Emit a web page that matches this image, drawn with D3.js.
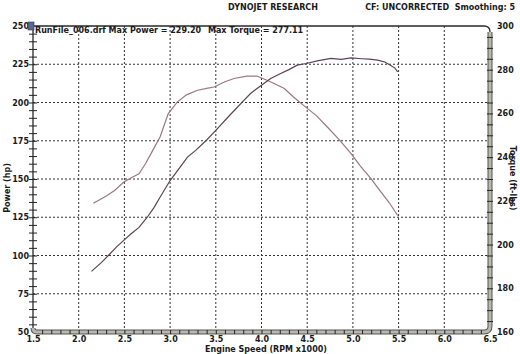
<!DOCTYPE html>
<html>
<head>
<meta charset="utf-8">
<script src="https://cdnjs.cloudflare.com/ajax/libs/d3/7.8.5/d3.min.js"></script>
<style>
body { margin: 0; background: #fff; }
svg text { font-family: "DejaVu Sans", Verdana, sans-serif; font-weight: bold; fill: #1a1a1a; }
</style>
</head>
<body>
<svg id="chart" width="520" height="354"></svg>
<script>
var rpmTicks = [1.5, 2.0, 2.5, 3.0, 3.5, 4.0, 4.5, 5.0, 5.5, 6.0, 6.5];
var powerTicks = [50, 75, 100, 125, 150, 175, 200, 225, 250];
var torqueTicks = [160, 180, 200, 220, 240, 260, 280, 300];

var powerRpm = [2.14, 2.25, 2.34, 2.42, 2.49, 2.57, 2.66, 2.75, 2.82, 2.89, 3.0, 3.11, 3.19, 3.28, 3.4, 3.5,
    3.65, 3.81, 3.88, 4.0, 4.1, 4.21, 4.3, 4.39, 4.49, 4.61, 4.76, 4.87, 4.98, 5.1, 5.18, 5.27, 5.35, 5.41, 5.46, 5.49];
var powerHp = [89.6, 95.5, 101, 106, 109.7, 114, 118.4, 125, 131, 138.1, 149, 157.7, 164.3, 168.7, 175.5, 181.8,
    191.5, 201.5, 205.9, 211.3, 215.7, 219, 221.5, 224.4, 225.5, 227.2, 228.8, 228.2, 229.2, 228.6, 228.3, 227.7, 226.5, 224.4, 222.5, 220];

var torqueRpm = [2.16, 2.23, 2.31, 2.4, 2.49, 2.57, 2.66, 2.73, 2.8, 2.89, 2.98, 3.08, 3.18, 3.3, 3.4, 3.48, 3.6,
    3.7, 3.84, 3.95, 4.06, 4.15, 4.25, 4.35, 4.46, 4.6, 4.72, 4.85, 4.98, 5.08, 5.2, 5.3, 5.4, 5.49];
var torqueFtLbs = [218.9, 220.5, 222.4, 225, 228.5, 230.5, 232.4, 237, 242.3, 249.2, 259.9, 265.3, 268.5, 270.6, 271.5, 272.1, 274.5,
    276, 277.1, 277.1, 275.2, 273.5, 271.4, 267.5, 263.7, 259, 253.8, 248, 241.6, 236, 230.1, 224.5, 219, 213.3];

var svg = d3.select("#chart");
var plotLeft = 33, plotRight = 490, plotTop = 26, plotBottom = 332;

var x = d3.scaleLinear().domain([1.5, 6.5]).range([plotLeft, plotRight]);
var yPower = d3.scaleLinear().domain([50, 250]).range([plotBottom, plotTop]);
var yTorque = d3.scaleLinear().domain([160, 300]).range([plotBottom, plotTop]);

// Title texts
svg.append("text").attr("x", 273).attr("y", 10).attr("text-anchor", "middle")
    .style("font-size", "8px").text("DYNOJET RESEARCH");
svg.append("text").attr("x", 515).attr("y", 10).attr("text-anchor", "end")
    .style("font-size", "8px").attr("xml:space", "preserve").text("CF: UNCORRECTED  Smoothing: 5");

// Dotted grid
svg.append("g").selectAll("line")
    .data(rpmTicks.slice(1, -1)).enter().append("line")
    .attr("x1", function(d) { return x(d); }).attr("x2", function(d) { return x(d); })
    .attr("y1", plotTop).attr("y2", plotBottom)
    .attr("stroke", "#333").attr("stroke-width", 1).attr("stroke-dasharray", "2,2");
svg.append("g").selectAll("line")
    .data(powerTicks.slice(1, -1)).enter().append("line")
    .attr("y1", function(d) { return yPower(d); }).attr("y2", function(d) { return yPower(d); })
    .attr("x1", plotLeft).attr("x2", plotRight)
    .attr("stroke", "#333").attr("stroke-width", 1).attr("stroke-dasharray", "2,2");

// Frame: thin top/left, thick bevelled right/bottom
svg.append("path")
    .attr("d", "M" + plotLeft + "," + plotBottom + " L" + plotLeft + "," + plotTop + " L" + (plotRight - 6) + "," + plotTop +
        " Q" + plotRight + "," + plotTop + " " + plotRight + "," + (plotTop + 6))
    .attr("fill", "none").attr("stroke", "#2a2a2a").attr("stroke-width", 1.3);
var barPath = "M" + plotRight + "," + (plotTop + 6) + " L" + plotRight + "," + (plotBottom - 6) +
    " Q" + plotRight + "," + plotBottom + " " + (plotRight - 6) + "," + plotBottom +
    " L" + (plotLeft + 4) + "," + plotBottom + " Q" + plotLeft + "," + plotBottom + " " + plotLeft + "," + (plotBottom - 4);
svg.append("path").attr("d", barPath).attr("fill", "none").attr("stroke", "#555").attr("stroke-width", 5);
svg.append("path").attr("d", barPath).attr("fill", "none").attr("stroke", "#b8b8ae").attr("stroke-width", 3);

function crossTicks(g) {
    g.select(".domain").remove();
    g.selectAll(".tick text").remove();
    g.selectAll(".tick line").attr("stroke", "#222").attr("stroke-width", 1);
}

// Minor ticks
svg.append("g").attr("transform", "translate(" + plotLeft + ",0)")
    .call(d3.axisLeft(yPower).tickValues(d3.range(55, 250, 5)).tickSize(4))
    .call(crossTicks)
    .selectAll(".tick line").attr("x1", 4);
svg.append("g").attr("transform", "translate(" + plotRight + ",0)")
    .call(d3.axisRight(yTorque).tickValues(d3.range(165, 300, 5)).tickSize(3))
    .call(crossTicks)
    .selectAll(".tick line").attr("x1", -3);
svg.append("g").attr("transform", "translate(0," + plotBottom + ")")
    .call(d3.axisBottom(x).tickValues(d3.range(16, 65).map(function(d) { return d / 10; })).tickSize(2))
    .call(crossTicks)
    .selectAll(".tick line").attr("y1", -2);

// Tick labels
function labelAxis(g) {
    g.select(".domain").remove();
    g.selectAll(".tick line").remove();
    g.selectAll(".tick text").attr("fill", "#1a1a1a").style("font-size", "8px")
        .style("font-family", "DejaVu Sans, Verdana, sans-serif").style("font-weight", "bold");
}
svg.append("g").attr("transform", "translate(" + plotLeft + ",0)")
    .call(d3.axisLeft(yPower).tickValues(powerTicks).tickSize(0).tickPadding(4).tickFormat(d3.format("d")))
    .call(labelAxis);
svg.append("g").attr("transform", "translate(" + plotRight + ",0)")
    .call(d3.axisRight(yTorque).tickValues(torqueTicks).tickSize(0).tickPadding(7).tickFormat(d3.format("d")))
    .call(labelAxis);
svg.append("g").attr("transform", "translate(0," + plotBottom + ")")
    .call(d3.axisBottom(x).tickValues(rpmTicks).tickSize(0).tickPadding(4).tickFormat(d3.format(".1f")))
    .call(labelAxis);

// Axis titles
svg.append("text").attr("transform", "translate(10,188) rotate(-90)").attr("text-anchor", "middle")
    .style("font-size", "8px").text("Power (hp)");
svg.append("text").attr("transform", "translate(510,178) rotate(90)").attr("text-anchor", "middle")
    .style("font-size", "8px").text("Torque (ft-lbs)");
svg.append("text").attr("x", 266).attr("y", 352).attr("text-anchor", "middle")
    .style("font-size", "8px").text("Engine Speed (RPM x1000)");

// Curves
var powerLine = d3.line()
    .x(function(d, i) { return x(powerRpm[i]); })
    .y(function(d) { return yPower(d); });
var torqueLine = d3.line()
    .x(function(d, i) { return x(torqueRpm[i]); })
    .y(function(d) { return yTorque(d); });

svg.append("path").datum(torqueFtLbs).attr("d", torqueLine)
    .attr("fill", "none").attr("stroke", "#9c7682").attr("stroke-width", 1.2);
svg.append("path").datum(powerHp).attr("d", powerLine)
    .attr("fill", "none").attr("stroke", "#5c4452").attr("stroke-width", 1.2);

// Run legend
svg.append("rect").attr("x", 28).attr("y", 22).attr("width", 6).attr("height", 8)
    .attr("fill", "#5a6894").attr("stroke", "#2c3460").attr("stroke-width", 0.6);
svg.append("text").attr("x", 35).attr("y", 33).style("font-size", "8px")
    .text("RunFile_006.drf Max Power = 229.20");
svg.append("text").attr("x", 208).attr("y", 33).style("font-size", "8px")
    .text("Max Torque = 277.11");
</script>
</body>
</html>
